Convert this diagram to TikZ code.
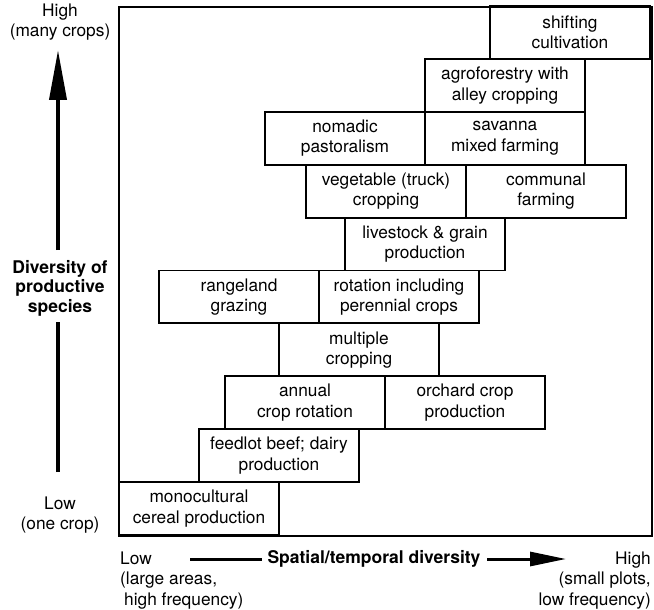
\documentclass[tikz,border=0pt]{standalone}
\usepackage{fontspec}
\setmainfont{TeX Gyre Heros}
\usetikzlibrary{arrows.meta}
\begin{document}
\begin{tikzpicture}[x=1pt,y=-1pt,
  cell/.style={draw,line width=1.9pt,minimum width=160pt,minimum height=52.9pt,
    inner sep=0pt,align=center,font=\fontsize{17.3}{20.5}\selectfont},
  lab/.style={inner sep=0pt,align=center,font=\fontsize{17.3}{20.5}\selectfont},
  boldlab/.style={inner sep=0pt,align=center,font=\fontsize{17.5}{19.5}\selectfont\bfseries},
  axisline/.style={line width=3.8pt},
  bigarrow/.style={line width=3.8pt,-{Triangle[length=50pt,width=17pt]}},
  harrow/.style={line width=3pt,-{Triangle[length=36pt,width=14pt]}}]
\useasboundingbox (0,0) rectangle (654,610);
% frame
\node[draw,line width=1.9pt,minimum width=533pt,minimum height=529pt,inner sep=0pt,anchor=north west] (frame) at (118,6) {};
% cells
\node[cell] (shift) at (570,32.45) {shifting\\cultivation};
\node[cell] (agro)  at (505,85.35) {agroforestry with\\alley cropping};
\node[cell] (noma)  at (345,138.25) {nomadic\\pastoralism};
\node[cell] (sava)  at (505,138.25) {savanna\\mixed farming};
\node[cell] (vege)  at (386,191.15) {vegetable (truck)\\cropping};
\node[cell] (comm)  at (546,191.15) {communal\\farming};
\node[cell] (live)  at (425,244.05) {livestock \& grain\\production};
\node[cell] (range) at (239,296.95) {rangeland\\grazing};
\node[cell] (rota)  at (399,296.95) {rotation including\\perennial crops};
\node[cell] (mult)  at (359,349.85) {multiple\\cropping};
\node[cell] (annu)  at (305,402.75) {annual\\crop rotation};
\node[cell] (orch)  at (465,402.75) {orchard crop\\production};
\node[cell] (feed)  at (279,455.65) {feedlot beef; dairy\\production};
\node[cell] (mono)  at (199,508.55) {monocultural\\cereal production};
% vertical axis
\node[lab] (vhigh) at (60,22) {High\\(many crops)};
\node[boldlab] (vtitle) at (60,288) {Diversity of\\productive\\species};
\node[lab] (vlow) at (60,515) {Low\\(one crop)};
\coordinate (va) at (58,250);
\coordinate (vb) at (58,50);
\coordinate (vc) at (58,472);
\coordinate (vd) at (58,322);
\draw[bigarrow] (va) -- (vb);
\draw[axisline] (vc) -- (vd);
% horizontal axis
\node[lab,align=left,anchor=west] (hlow) at (120,580.5) {Low\\(large areas,\\\hspace*{4pt}high frequency)};
\node[lab,align=right,anchor=east] (hhigh) at (651,580.5) {High\\(small plots,\\low frequency)};
\node[boldlab] (htitle) at (374,559) {Spatial/temporal diversity};
\coordinate (ha) at (190,559);
\coordinate (hb) at (262,559);
\coordinate (hc) at (487,559);
\coordinate (hd) at (566,559);
\draw[line width=3pt] (ha) -- (hb);
\draw[harrow] (hc) -- (hd);
\end{tikzpicture}
\end{document}
